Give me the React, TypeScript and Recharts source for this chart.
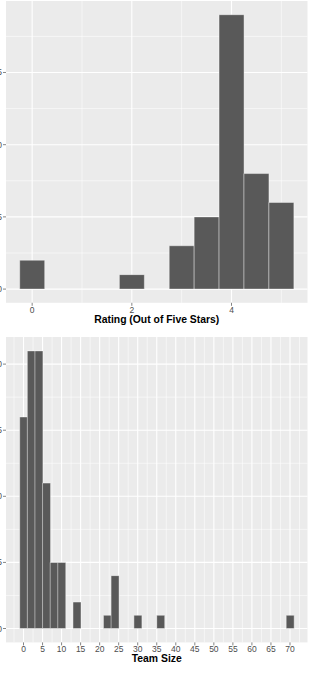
import React from 'react';
import { ComposedChart, Bar, XAxis, YAxis, CartesianGrid } from 'recharts';

// Ratings histogram (bin width 0.5)
const ratingBins = [0, 2, 3, 3.5, 4, 4.5, 5];
const ratingCounts = [2, 1, 3, 5, 19, 8, 6];
const ratingTicksX = [0, 2, 4];
const ratingTicksY = [0, 5, 10, 15];

// Team size histogram (bin width 2)
const teamBins = [0, 2, 4, 6, 8, 10, 14, 22, 24, 30, 36, 70];
const teamCounts = [16, 21, 21, 11, 5, 5, 2, 1, 4, 1, 1, 1];
const teamTicksX = [0, 5, 10, 15, 20, 25, 30, 35, 40, 45, 50, 55, 60, 65, 70];
const teamTicksY = [0, 5, 10, 15, 20];

const FONT = '"Liberation Sans", Arial, Helvetica, sans-serif';
const PANEL_BG = '#EBEBEB';
const BAR_FILL = '#595959';

const expand = (lo: number, hi: number): [number, number] => {
  const pad = (hi - lo) * 0.05;
  return [lo - pad, hi + pad];
};

// midpoints between major breaks, plus one step past each end, kept inside the domain
const minorBreaks = (ticks: number[], domain: [number, number]) => {
  const step = ticks[1] - ticks[0];
  const out: number[] = [];
  for (let i = -1; i < ticks.length; i++) {
    const v = ticks[0] + step * (i + 0.5);
    if (v > domain[0] && v < domain[1]) out.push(v);
  }
  return out;
};

type HistProps = {
  bins: number[];
  counts: number[];
  binWidth: number;
  xTicks: number[];
  yTicks: number[];
  title: string;
  top: number;
  plotHeight: number;
};

const PLOT_WIDTH = 301.5;
const Y_AXIS_W = 30;
const X_AXIS_H = 24;

function Histogram({ bins, counts, binWidth, xTicks, yTicks, title, top, plotHeight }: HistProps) {
  const data = bins.map((x, i) => ({ x, count: counts[i] }));
  const xDomain = expand(Math.min(...bins) - binWidth / 2, Math.max(...bins) + binWidth / 2);
  const yDomain = expand(0, Math.max(...counts));
  const xMinor = minorBreaks(xTicks, xDomain);
  const yMinor = minorBreaks(yTicks, yDomain);
  const width = Y_AXIS_W + PLOT_WIDTH + 1;
  const height = plotHeight + X_AXIS_H;

  return (
    <div style={{ position: 'absolute', left: -24.2, top }}>
      <ComposedChart
        width={width}
        height={height}
        data={data}
        margin={{ top: 0, right: 1, bottom: 0, left: 0 }}
        barCategoryGap={0}
        barGap={0}
      >
        {/* panel background with major grid lines */}
        <CartesianGrid
          fill={PANEL_BG}
          stroke="#FFFFFF"
          strokeWidth={1.1}
          horizontalValues={yTicks}
          verticalValues={xTicks}
        />
        {/* minor grid lines */}
        <CartesianGrid
          fill="none"
          stroke="#FFFFFF"
          strokeWidth={0.55}
          horizontalValues={yMinor}
          verticalValues={xMinor}
        />
        <XAxis
          dataKey="x"
          type="number"
          domain={xDomain}
          ticks={xTicks}
          allowDataOverflow
          interval={0}
          height={X_AXIS_H}
          axisLine={false}
          tickSize={3}
          tickMargin={1}
          tickLine={{ stroke: '#333333', strokeWidth: 0.6 }}
          tick={{ fill: '#4D4D4D', fontSize: 8.5, fontFamily: FONT }}
          label={{
            value: title,
            position: 'insideBottom',
            offset: 4,
            fill: '#000000',
            fontSize: 10.4,
            fontWeight: 'bold',
            fontFamily: FONT,
          }}
        />
        <YAxis
          type="number"
          domain={yDomain}
          ticks={yTicks}
          allowDataOverflow
          interval={0}
          width={Y_AXIS_W}
          axisLine={false}
          tickSize={3}
          tickMargin={1}
          tickLine={{ stroke: '#333333', strokeWidth: 0.6 }}
          tick={{ fill: '#4D4D4D', fontSize: 8.5, fontFamily: FONT }}
        />
        <Bar
          dataKey="count"
          fill={BAR_FILL}
          stroke="#FFFFFF"
          strokeOpacity={0.7}
          strokeWidth={0.6}
          isAnimationActive={false}
        />
      </ComposedChart>
    </div>
  );
}

export default function App() {
  return (
    <div
      style={{
        position: 'absolute',
        left: 0,
        top: 0,
        width: 310,
        height: 674,
        overflow: 'hidden',
        background: '#FFFFFF',
      }}
    >
      <Histogram
        bins={ratingBins}
        counts={ratingCounts}
        binWidth={0.5}
        xTicks={ratingTicksX}
        yTicks={ratingTicksY}
        title="Rating (Out of Five Stars)"
        top={0.6}
        plotHeight={301.8}
      />
      <Histogram
        bins={teamBins}
        counts={teamCounts}
        binWidth={2}
        xTicks={teamTicksX}
        yTicks={teamTicksY}
        title="Team Size"
        top={337.2}
        plotHeight={305.4}
      />
    </div>
  );
}
